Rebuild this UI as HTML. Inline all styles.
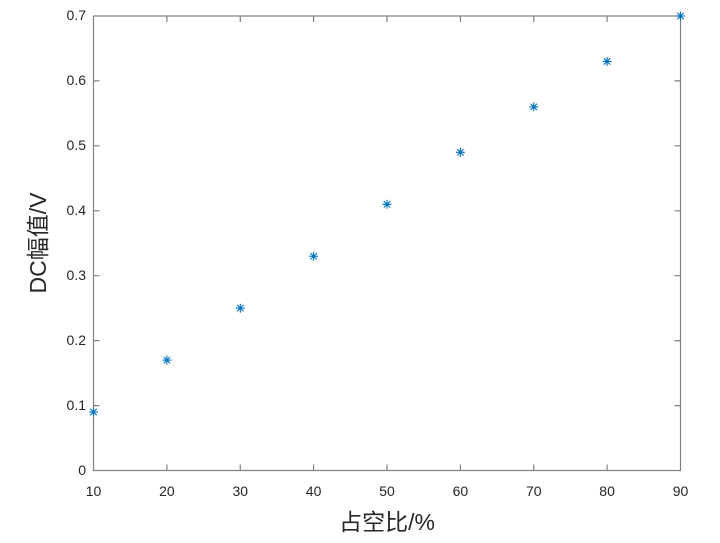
<!DOCTYPE html><html><head><style>body{margin:0;background:#fff}</style></head><body>
<svg width="720" height="538" xmlns="http://www.w3.org/2000/svg" font-family="Liberation Sans, Noto Sans CJK SC, sans-serif">
<rect width="720" height="538" fill="#fff"/>
<g stroke="#808080" stroke-width="1.2" fill="none">
<rect x="93.5" y="16" width="587" height="454.5"/>
<path d="M166.9 470.5v-6M240.3 470.5v-6M313.6 470.5v-6M387 470.5v-6M460.4 470.5v-6M533.8 470.5v-6M607.1 470.5v-6M166.9 16v6M240.3 16v6M313.6 16v6M387 16v6M460.4 16v6M533.8 16v6M607.1 16v6"/>
<path d="M93.5 405.6h6M93.5 340.6h6M93.5 275.7h6M93.5 210.8h6M93.5 145.8h6M93.5 80.9h6M680.5 405.6h-6M680.5 340.6h-6M680.5 275.7h-6M680.5 210.8h-6M680.5 145.8h-6M680.5 80.9h-6"/>
</g>
<g font-size="14" fill="#262626" text-anchor="middle">
<text x="93.5" y="496">10</text><text x="166.9" y="496">20</text><text x="240.3" y="496">30</text><text x="313.6" y="496">40</text><text x="387" y="496">50</text><text x="460.4" y="496">60</text><text x="533.8" y="496">70</text><text x="607.1" y="496">80</text><text x="680.5" y="496">90</text>
</g>
<g font-size="14" fill="#262626" text-anchor="end">
<text x="86" y="475">0</text><text x="86" y="410">0.1</text><text x="86" y="345">0.2</text><text x="86" y="280">0.3</text><text x="86" y="215">0.4</text><text x="86" y="150">0.5</text><text x="86" y="85">0.6</text><text x="86" y="20">0.7</text>
</g>
<text x="387" y="530" font-size="23" fill="#262626" text-anchor="middle">占空比/%</text>
<text transform="translate(46,243) rotate(-90)" font-size="23" fill="#262626" text-anchor="middle">DC幅值/V</text>
<g stroke="#0072bd" stroke-width="1.1">
<defs><path id="s" d="M-4.5 0h9M0 -4.5v9M-3.2 -3.2l6.4 6.4M-3.2 3.2l6.4 -6.4"/></defs>
<use href="#s" x="93.5" y="412.1"/><use href="#s" x="166.9" y="360.1"/><use href="#s" x="240.3" y="308.2"/><use href="#s" x="313.6" y="256.2"/><use href="#s" x="387" y="204.3"/><use href="#s" x="460.4" y="152.3"/><use href="#s" x="533.8" y="106.9"/><use href="#s" x="607.1" y="61.4"/><use href="#s" x="680.5" y="16"/>
</g>
</svg>
</body></html>
